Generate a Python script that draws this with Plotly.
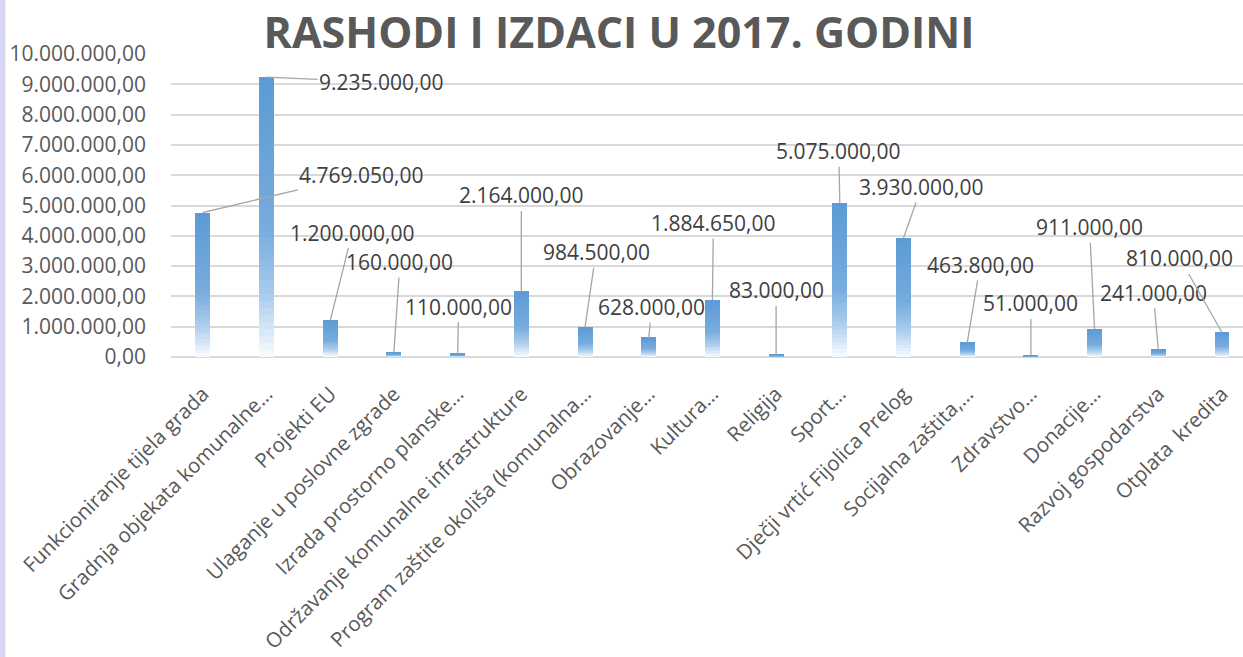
import plotly.graph_objects as go

categories = [
    "Funkcioniranje tijela grada",
    "Gradnja objekata komunalne…",
    "Projekti EU",
    "Ulaganje u poslovne zgrade",
    "Izrada prostorno planske…",
    "Održavanje komunalne infrastrukture",
    "Program zaštite okoliša (komunalna…",
    "Obrazovanje…",
    "Kultura…",
    "Religija",
    "Sport…",
    "Dječji vrtić Fijolica Prelog",
    "Socijalna zaštita,…",
    "Zdravstvo…",
    "Donacije…",
    "Razvoj gospodarstva",
    "Otplata\u00a0 kredita",
]
values = [4769050, 9235000, 1200000, 160000, 110000, 2164000, 984500, 628000,
          1884650, 83000, 5075000, 3930000, 463800, 51000, 911000, 241000, 810000]
value_labels = ["4.769.050,00", "9.235.000,00", "1.200.000,00", "160.000,00", "110.000,00",
                "2.164.000,00", "984.500,00", "628.000,00", "1.884.650,00", "83.000,00",
                "5.075.000,00", "3.930.000,00", "463.800,00", "51.000,00", "911.000,00",
                "241.000,00", "810.000,00"]
tick_vals = [0, 1e6, 2e6, 3e6, 4e6, 5e6, 6e6, 7e6, 8e6, 9e6, 10e6]
title_text = "RASHODI I IZDACI U 2017. GODINI"

# label offsets (pixels) from bar top to label centre
label_dx = [159, 115, 22, 6, 1, 0, 11, 3, 1, 0, -1, 18, 13, 0, -5, -5, -42]
label_dy = [-38, 5, -88, -90, -47, -96, -75, -31, -77, -64, -52, -51, -78, -52, -102, -57, -74]

# gradient stops (t from top of bar = 0 to bottom = 1)
stops = [(0.0, (91, 155, 213)), (0.55, (120, 172, 222)), (0.78, (170, 204, 236)), (1.0, (250, 252, 255))]


def grad_color(t):
    for (t0, c0), (t1, c1) in zip(stops[:-1], stops[1:]):
        if t0 <= t <= t1:
            f = (t - t0) / (t1 - t0)
            c = [round(a + (b - a) * f) for a, b in zip(c0, c1)]
            return "rgb(%d,%d,%d)" % tuple(c)
    return "rgb(255,255,255)"


N = 40
fig = go.Figure()
for k in range(N):
    t = 1 - (k + 0.5) / N
    # each segment runs from its own base to the bar top; the next one covers the rest
    fig.add_trace(go.Bar(
        x=categories,
        y=[v * (N - k) / N for v in values],
        base=[v * k / N for v in values],
        width=0.235,
        marker=dict(color=grad_color(t), line=dict(width=0)),
        hoverinfo="skip",
        showlegend=False,
    ))

for i, (c, v, lab) in enumerate(zip(categories, values, value_labels)):
    fig.add_annotation(
        x=c, y=v, text=lab, showarrow=True, arrowhead=0, arrowwidth=1.3,
        arrowcolor="#A6A6A6", ax=label_dx[i], ay=label_dy[i], standoff=0,
        font=dict(family="Open Sans", size=21, color="#404040"),
    )

fig.update_layout(
    width=1243, height=657,
    margin=dict(l=171, r=0, t=54, b=300),
    barmode="overlay",
    bargap=0,
    paper_bgcolor="white", plot_bgcolor="white",
    separators=",.",
    title=dict(text=title_text, x=0.498, xanchor="center", xref="container",
               y=1 - 33 / 657, yanchor="middle", yref="container",
               font=dict(family="Open Sans", size=43, color="#595959", weight="bold")),
    xaxis=dict(range=[-0.5, 16.33], tickangle=-45, showgrid=False, showline=False,
               ticks="", ticklabelstandoff=20, automargin=False,
               tickfont=dict(family="Open Sans", size=20.5, color="#595959")),
    yaxis=dict(range=[0, 10e6], tickvals=tick_vals, tickformat=",.2f",
               showgrid=True, gridcolor="#D9D9D9", gridwidth=1.5,
               zeroline=True, zerolinecolor="#D9D9D9", zerolinewidth=1.5,
               ticks="", ticklabelstandoff=24, automargin=False,
               tickfont=dict(family="Open Sans", size=21, color="#595959")),
    shapes=[
        dict(type="rect", xref="paper", yref="paper", x0=-171 / 1072, x1=-167 / 1072,
             y0=-300 / 303, y1=357 / 303, fillcolor="#D5D5FB", line=dict(width=0), layer="above"),
        dict(type="rect", xref="paper", yref="paper", x0=-167 / 1072, x1=-165.5 / 1072,
             y0=-300 / 303, y1=357 / 303, fillcolor="#DCDCDC", line=dict(width=0), layer="above"),
    ],
)

fig.write_html("out.html", config={"displayModeBar": False},
               post_script="document.body.style.margin='0';document.body.style.overflow='hidden';")
